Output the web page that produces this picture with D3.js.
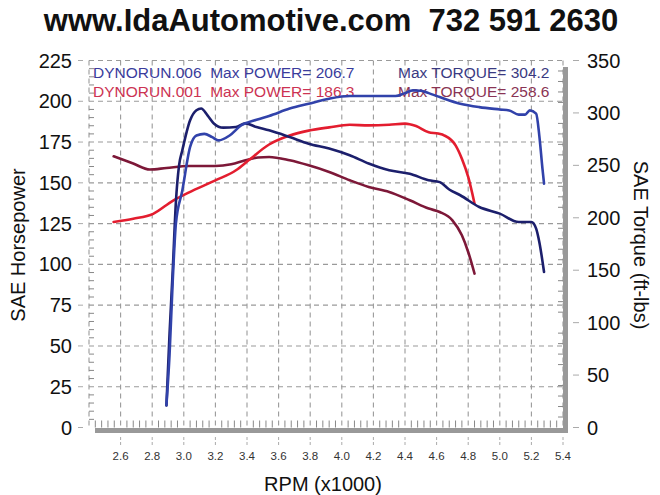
<!DOCTYPE html>
<html><head><meta charset="utf-8">
<script src="https://cdn.jsdelivr.net/npm/d3@7"></script>
<style>body{margin:0;background:#fff}svg{display:block}text{white-space:pre}</style>
</head><body>
<svg id="c" width="660" height="495"></svg>
<script>
// ---- data ----
const titleText = "www.IdaAutomotive.com  732 591 2630";
const xTicks = [2.6,2.8,3.0,3.2,3.4,3.6,3.8,4.0,4.2,4.4,4.6,4.8,5.0,5.2,5.4];
const hpTicks = [0,25,50,75,100,125,150,175,200,225];
const tqTicks = [0,50,100,150,200,250,300,350];

const run006Rpm = [2.89,2.91,2.93,2.95,2.99,3.04,3.08,3.13,3.18,3.22,3.29,3.36,3.46,3.54,3.67,3.79,3.92,4.05,4.17,4.34,4.40,4.45,4.50,4.55,4.62,4.75,4.87,5.00,5.06,5.12,5.16,5.19,5.23,5.25,5.27,5.28];
const run006Hp  = [13.7,45,90,125,145,172,179,180,178,176,179,185,188.7,191,195.5,198.5,201.6,203.2,203.2,203.2,205,206.7,206.5,205,202.6,198.5,196.4,195,194.4,191.8,191.8,194.4,192.4,179,158.7,149.5];

const run006TqRpm = [2.89,2.91,2.93,2.95,2.97,2.99,3.04,3.08,3.11,3.15,3.19,3.25,3.33,3.39,3.46,3.54,3.67,3.79,3.92,4.05,4.17,4.30,4.43,4.55,4.62,4.68,4.75,4.87,5.00,5.12,5.20,5.23,5.25,5.28];
const run006Tq    = [21,90,150,215,250,264,293,302.5,304.2,297.7,290,286,286.6,290,286.6,283.4,277,270.7,266,259.6,251.7,245.3,242,235.8,234,227,221.5,210.3,204,196,196,189.7,177,148.3];

const run001Rpm = [2.556,2.68,2.806,2.93,3.03,3.2,3.33,3.41,3.54,3.67,3.79,3.92,4.05,4.17,4.30,4.40,4.47,4.55,4.61,4.65,4.72,4.76,4.80,4.84];
const run001Hp  = [126,128,131,139,144,151.5,157.7,163.8,173.5,179,182,184,185.6,185.2,185.6,186.3,184.8,181,180.2,179,173,164.8,153.6,137.3];

const run001TqRpm = [2.556,2.68,2.785,2.89,3.03,3.2,3.3,3.39,3.47,3.54,3.67,3.79,3.92,4.05,4.17,4.30,4.43,4.55,4.62,4.70,4.76,4.80,4.84];
const run001Tq    = [258.6,251.7,246,247.5,249.4,249.4,251,254.8,257.5,258,254.8,250,243.7,235.8,229.4,224.6,216.7,208.8,205.5,197.6,183.3,167.4,146.8];

const legendRows = [
  {left:"DYNORUN.006  Max POWER= 206.7", right:"Max TORQUE= 304.2", cl:"#3a3c9c", cr:"#3a3a82"},
  {left:"DYNORUN.001  Max POWER= 186.3", right:"Max TORQUE= 258.6", cl:"#cc3352", cr:"#8a3454"}
];

// ---- layout ----
const svg = d3.select("#c");
const x = d3.scaleLinear().domain([2.4,5.4]).range([89,563]);
const yH = d3.scaleLinear().domain([0,225]).range([427.5,60.5]);
const yT = d3.scaleLinear().domain([0,350]).range([427.5,60.5]);
const font = "'Liberation Sans', Arial, sans-serif";
const gridCol = "#9a9a9a";

// title
svg.append("text").attr("x",331).attr("y",31).attr("text-anchor","middle")
  .attr("font-family",font).attr("font-weight","bold").attr("font-size",31)
  .attr("fill","#111").text(titleText);

// shadow frame
svg.append("rect").attr("x",95).attr("y",428).attr("width",473).attr("height",5).attr("fill","#999");
svg.append("rect").attr("x",563).attr("y",67).attr("width",5).attr("height",366).attr("fill","#999");

const g = svg.append("g");
// vertical grid
g.selectAll("line.vg").data([2.4].concat(xTicks)).join("line")
  .attr("x1",d=>x(d)).attr("x2",d=>x(d)).attr("y1",yH(225)).attr("y2",yH(0))
  .attr("stroke",gridCol).attr("stroke-width",1.1).attr("stroke-dasharray","5,4");
// horizontal grid
g.selectAll("line.hg").data(hpTicks.slice(1)).join("line")
  .attr("x1",x(2.4)).attr("x2",x(5.4)).attr("y1",d=>yH(d)).attr("y2",d=>yH(d))
  .attr("stroke",gridCol).attr("stroke-width",1.1).attr("stroke-dasharray","5,4");

// minor ticks inside
const minorX = d3.range(2.44,5.4,0.04).filter(v=>Math.abs((v*5)-Math.round(v*5))>0.01);
g.selectAll("line.mx").data(minorX).join("line")
  .attr("x1",d=>x(d)).attr("x2",d=>x(d)).attr("y1",yH(0)).attr("y2",yH(0)-7)
  .attr("stroke","#888").attr("stroke-width",1);
const minorH = d3.range(5,225,5).filter(v=>v%25!==0);
g.selectAll("line.mh").data(minorH).join("line")
  .attr("x1",x(2.4)).attr("x2",x(2.4)+5).attr("y1",d=>yH(d)).attr("y2",d=>yH(d))
  .attr("stroke","#888").attr("stroke-width",1);
const minorT = d3.range(10,350,10).filter(v=>v%50!==0);
g.selectAll("line.mt").data(minorT).join("line")
  .attr("x1",x(5.4)-5).attr("x2",x(5.4)).attr("y1",d=>yT(d)).attr("y2",d=>yT(d))
  .attr("stroke","#888").attr("stroke-width",1);

// outside tick marks + labels
svg.selectAll("line.lt").data(hpTicks).join("line")
  .attr("x1",78).attr("x2",83).attr("y1",d=>yH(d)).attr("y2",d=>yH(d))
  .attr("stroke","#aaa").attr("stroke-width",1);
svg.selectAll("text.lt").data(hpTicks).join("text")
  .attr("x",72).attr("y",d=>yH(d)+7).attr("text-anchor","end")
  .attr("font-family",font).attr("font-size",20).attr("fill","#111").text(d=>d);
svg.selectAll("line.rt").data(tqTicks).join("line")
  .attr("x1",573).attr("x2",579).attr("y1",d=>yT(d)).attr("y2",d=>yT(d))
  .attr("stroke","#aaa").attr("stroke-width",1);
svg.selectAll("text.rt").data(tqTicks).join("text")
  .attr("x",587).attr("y",d=>yT(d)+7).attr("text-anchor","start")
  .attr("font-family",font).attr("font-size",20).attr("fill","#111").text(d=>d);
svg.selectAll("line.bt").data(xTicks).join("line")
  .attr("x1",d=>x(d)).attr("x2",d=>x(d)).attr("y1",437).attr("y2",447)
  .attr("stroke","#aaa").attr("stroke-width",1).attr("stroke-dasharray","3,2");
svg.selectAll("text.bt").data(xTicks).join("text")
  .attr("x",d=>x(d)).attr("y",460).attr("text-anchor","middle")
  .attr("font-family",font).attr("font-size",11.5).attr("fill","#333").text(d=>d.toFixed(1));

// axis titles
svg.append("text").attr("transform","translate(25,245) rotate(-90)").attr("text-anchor","middle")
  .attr("font-family",font).attr("font-size",20).attr("fill","#111").text("SAE Horsepower");
svg.append("text").attr("transform","translate(634,245) rotate(90)").attr("text-anchor","middle")
  .attr("font-family",font).attr("font-size",20).attr("fill","#111").text("SAE Torque (ft-lbs)");
svg.append("text").attr("x",323).attr("y",491).attr("text-anchor","middle")
  .attr("font-family",font).attr("font-size",20).attr("fill","#111").text("RPM (x1000)");

// legend text
legendRows.forEach((r,i)=>{
  const yy = 78 + i*19;
  svg.append("text").attr("x",93).attr("y",yy).attr("font-family",font).attr("font-size",15.5)
    .attr("fill",r.cl).text(r.left);
  svg.append("text").attr("x",398).attr("y",yy).attr("font-family",font).attr("font-size",15.5)
    .attr("fill",r.cr).text(r.right);
});

// curves
const mk = (xs,ys,ysc)=> d3.line().curve(d3.curveMonotoneX).x((d,i)=>x(xs[i])).y((d,i)=>ysc(ys[i]))(ys);
const curves = [
  {xs:run001TqRpm, ys:run001Tq, sc:yT, c:"#7d1838"},
  {xs:run001Rpm, ys:run001Hp, sc:yH, c:"#e31d2f"},
  {xs:run006TqRpm, ys:run006Tq, sc:yT, c:"#1c1f6c"},
  {xs:run006Rpm, ys:run006Hp, sc:yH, c:"#3142aa"}
];
curves.forEach(cv=>{
  svg.append("path").attr("d",mk(cv.xs,cv.ys,cv.sc)).attr("fill","none")
    .attr("stroke",cv.c).attr("stroke-width",2.6).attr("stroke-linejoin","round").attr("stroke-linecap","round");
});
</script>
</body></html>
